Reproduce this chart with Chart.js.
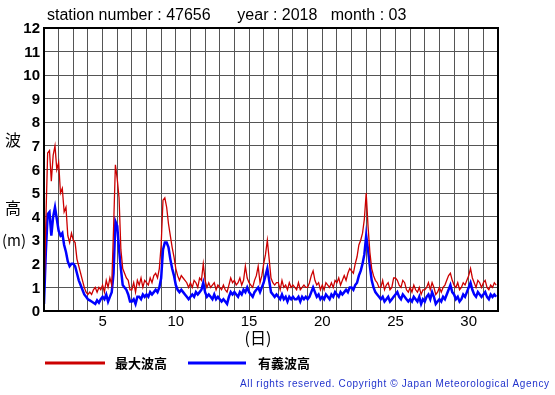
<!DOCTYPE html>
<html><head><meta charset="utf-8">
<script src="https://cdn.jsdelivr.net/npm/chart.js@4/dist/chart.umd.min.js"></script>
<style>html,body{margin:0;padding:0;background:#fff;}#wrap{width:555px;height:395px;position:relative;}</style>
</head><body><div id="wrap"><canvas id="c" width="555" height="395"></canvas></div>
<script>
const titleText = "station number : 47656      year : 2018   month : 03";
const xTickLabels = ["5","10","15","20","25","30"];
const yTickLabels = ["0","1","2","3","4","5","6","7","8","9","10","11","12"];
const seriesNames = ["最大波高","有義波高"];
const startDay = 1;
const stepsPerDay = 8; // 3-hourly samples
// max wave height (m), 8 values per day, days 1..31
const maxWave = [
 0.5,3.8,6.7,6.8,5.5,6.6,7.0,6.0,
 6.3,5.0,5.2,4.2,4.4,3.2,2.9,3.3,
 3.0,2.9,2.2,1.9,1.6,1.3,1.0,0.8,
 0.7,0.8,0.7,0.9,1.0,0.8,1.0,0.9,
 1.1,0.8,1.3,1.0,1.4,1.1,3.5,6.2,
 5.6,4.8,2.6,1.8,1.6,1.4,1.3,0.9,
 0.9,1.2,0.8,1.3,1.1,1.4,1.0,1.3,
 1.2,1.1,1.4,1.2,1.5,1.6,1.4,1.8,
 2.8,4.7,4.8,4.4,3.7,3.2,2.7,2.3,
 1.8,1.5,1.3,1.5,1.4,1.3,1.2,1.0,
 1.2,1.0,1.3,1.2,1.0,1.4,1.3,2.0,
 1.3,1.0,1.2,1.0,1.1,1.2,0.9,1.1,
 1.0,0.9,1.1,0.9,0.8,1.1,1.4,1.2,
 1.3,1.1,1.2,1.4,1.1,1.3,1.9,1.4,
 1.2,1.1,1.0,1.3,1.5,1.9,1.2,1.5,
 2.0,2.4,3.0,2.2,1.4,1.2,1.1,1.2,
 1.2,0.9,1.3,1.0,1.1,0.9,1.2,1.0,
 1.1,1.0,0.9,1.2,0.9,1.0,1.1,1.0,
 1.0,1.2,1.5,1.7,1.3,1.1,1.2,0.9,
 1.1,0.9,1.2,1.1,1.0,1.2,1.0,1.3,
 1.2,1.4,1.1,1.3,1.5,1.3,1.6,1.8,
 1.7,1.6,2.0,2.3,2.8,3.0,3.3,3.9,
 5.0,3.6,2.5,1.8,1.5,1.3,1.2,1.0,
 1.0,1.3,0.9,1.1,1.2,0.9,1.0,1.4,
 1.4,1.3,1.1,1.0,1.3,1.2,0.9,0.8,
 1.0,0.8,1.1,0.9,0.8,1.0,0.7,0.9,
 0.9,1.0,1.2,0.9,1.2,1.0,0.7,0.8,
 1.0,0.8,1.0,1.1,1.3,1.5,1.6,1.3,
 1.1,1.0,1.2,0.9,1.0,1.2,1.1,1.3,
 1.5,1.8,1.4,1.2,1.0,1.3,1.2,1.0,
 1.2,1.3,1.0,0.9,1.1,1.0,1.2,1.1
];
// significant wave height (m)
const sigWave = [
 0.3,2.5,4.1,4.2,3.2,4.0,4.4,3.9,
 3.4,3.2,3.3,2.8,2.5,2.1,1.9,2.0,
 2.0,1.9,1.6,1.3,1.1,0.9,0.7,0.6,
 0.5,0.45,0.4,0.35,0.3,0.45,0.35,0.5,
 0.6,0.5,0.7,0.4,0.6,0.8,1.6,3.8,
 3.6,2.6,1.8,1.1,1.0,0.9,0.7,0.4,
 0.4,0.5,0.3,0.6,0.6,0.5,0.7,0.6,
 0.7,0.6,0.8,0.7,0.8,0.9,0.8,1.0,
 1.4,2.6,2.9,2.9,2.7,2.2,1.8,1.5,
 1.1,0.9,0.8,0.9,0.8,0.7,0.6,0.5,
 0.6,0.7,0.6,0.8,0.7,0.8,0.9,1.2,
 0.8,0.6,0.7,0.6,0.5,0.7,0.5,0.6,
 0.5,0.4,0.5,0.4,0.3,0.6,0.8,0.7,
 0.8,0.7,0.6,0.8,0.7,0.9,0.8,1.0,
 0.8,0.7,0.6,0.8,0.9,1.0,0.8,1.0,
 1.2,1.5,1.8,1.3,0.8,0.7,0.6,0.7,
 0.6,0.5,0.7,0.5,0.6,0.4,0.6,0.5,
 0.6,0.5,0.5,0.6,0.4,0.6,0.5,0.6,
 0.5,0.6,0.8,1.0,0.8,0.6,0.7,0.5,
 0.6,0.5,0.7,0.6,0.5,0.7,0.6,0.8,
 0.7,0.6,0.8,0.7,0.8,0.9,0.8,1.0,
 1.0,0.9,1.1,1.2,1.5,1.7,2.0,2.4,
 3.2,2.6,1.9,1.3,1.0,0.8,0.7,0.6,
 0.5,0.6,0.4,0.5,0.6,0.4,0.5,0.6,
 0.7,0.8,0.6,0.5,0.7,0.6,0.5,0.4,
 0.5,0.4,0.6,0.5,0.4,0.6,0.3,0.5,
 0.4,0.6,0.7,0.5,0.8,0.6,0.3,0.4,
 0.5,0.4,0.6,0.5,0.7,0.9,1.1,0.8,
 0.7,0.5,0.6,0.4,0.5,0.7,0.6,0.8,
 1.0,1.2,0.9,0.7,0.6,0.8,0.7,0.6,
 0.7,0.8,0.6,0.5,0.7,0.6,0.7,0.6
];
const toPts = arr => arr.map((v,i)=>({x:startDay + i/stepsPerDay, y:v}));

const FONT = '"Liberation Sans", Arial, sans-serif';
const CJK = '"Noto Sans CJK JP", sans-serif';

const deco = {
  id:'deco',
  afterDraw(chart){
    const ctx = chart.ctx, xs = chart.scales.x, ys = chart.scales.y, ca = chart.chartArea;
    ctx.save();
    // border
    ctx.strokeStyle = '#000'; ctx.lineWidth = 2;
    ctx.strokeRect(ca.left, ca.top, ca.right-ca.left, ca.bottom-ca.top);
    // title
    ctx.fillStyle = '#000'; ctx.font = '16px ' + FONT; ctx.textBaseline = 'middle'; ctx.textAlign = 'left';
    ctx.fillText(titleText, 47, 16);
    // y tick labels
    ctx.font = 'bold 15px ' + FONT; ctx.textAlign = 'right';
    yTickLabels.forEach(t => ctx.fillText(t, 40, ys.getPixelForValue(Number(t)) + 1));
    // x tick labels
    ctx.font = '15px ' + FONT; ctx.textAlign = 'center';
    xTickLabels.forEach(t => ctx.fillText(t, xs.getPixelForValue(Number(t)), 322));
    // x title
    ctx.font = '16px ' + CJK;
    ctx.fillText('(日)', 258, 338);
    // y title
    ctx.font = '16px ' + CJK;
    ctx.fillText('波', 13, 140);
    ctx.fillText('高', 13, 208);
    ctx.font = '15px ' + CJK;
    ctx.fillText('(m)', 14, 240);
    // legend
    ctx.lineWidth = 3;
    ctx.strokeStyle = chart.data.datasets[0].borderColor;
    ctx.beginPath(); ctx.moveTo(45,363); ctx.lineTo(105,363); ctx.stroke();
    ctx.strokeStyle = chart.data.datasets[1].borderColor;
    ctx.beginPath(); ctx.moveTo(188,363); ctx.lineTo(246,363); ctx.stroke();
    ctx.fillStyle = '#000'; ctx.font = 'bold 13px ' + CJK; ctx.textAlign = 'left';
    ctx.fillText(seriesNames[0], 115, 363);
    ctx.fillText(seriesNames[1], 258, 363);
    // copyright
    const cp = 'All rights reserved. Copyright © Japan Meteorological Agency';
    ctx.font = '10px ' + FONT; ctx.fillStyle = '#2233cc';
    const w = ctx.measureText(cp).width;
    const ls = (309 - w) / (cp.length - 1);
    ctx.letterSpacing = ls + 'px';
    ctx.fillText(cp, 240, 384);
    ctx.restore();
  }
};

new Chart(document.getElementById('c'), {
  type:'line',
  data:{datasets:[
    {label:seriesNames[0], data:toPts(maxWave), borderColor:'#cc0000', borderWidth:1.3, pointRadius:0, tension:0, fill:false},
    {label:seriesNames[1], data:toPts(sigWave), borderColor:'#0000ff', borderWidth:2.5, pointRadius:0, tension:0, fill:false}
  ]},
  options:{
    responsive:false, animation:false, devicePixelRatio:1,
    layout:{padding:{left:44,right:57,top:28,bottom:84}},
    plugins:{legend:{display:false}, tooltip:{enabled:false}},
    scales:{
      x:{type:'linear', min:1, max:32, ticks:{display:false, stepSize:1}, grid:{color:'#555', lineWidth:1, drawTicks:false}, border:{display:false}},
      y:{min:0, max:12, ticks:{display:false, stepSize:1}, grid:{color:'#555', lineWidth:1, drawTicks:false}, border:{display:false}}
    }
  },
  plugins:[deco]
});
</script></body></html>
